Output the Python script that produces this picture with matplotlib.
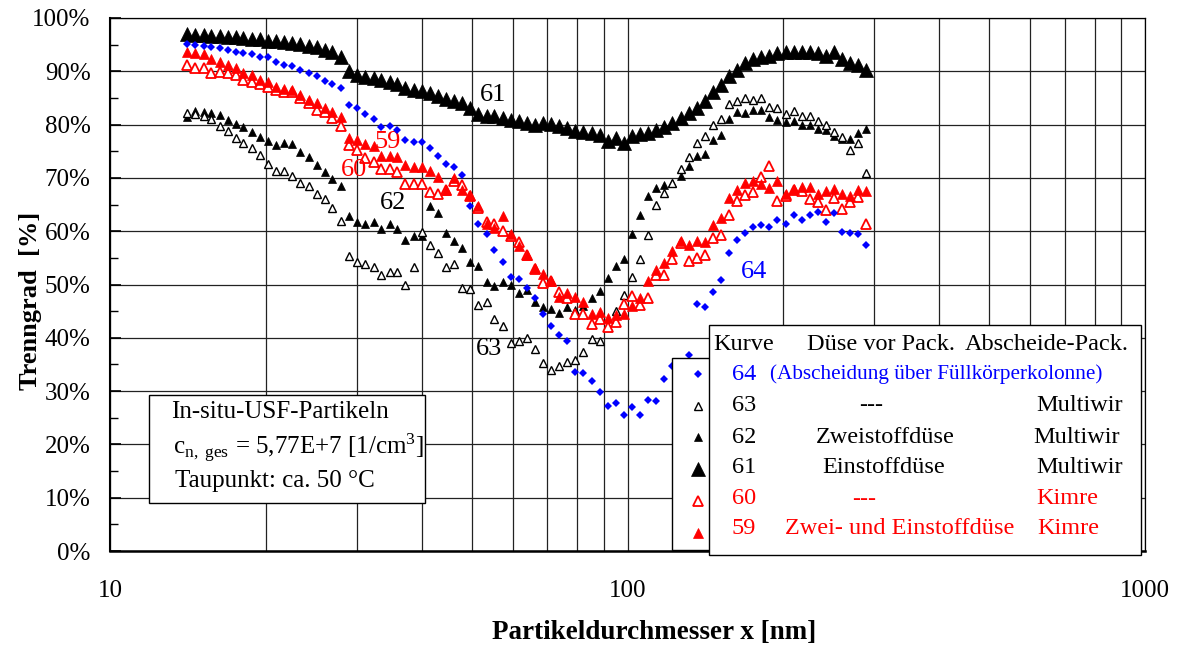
import numpy as np
import matplotlib
matplotlib.use("Agg")
import matplotlib.pyplot as plt
from matplotlib.patches import Rectangle
from matplotlib.ticker import FuncFormatter, MultipleLocator, LogLocator, NullFormatter

plt.rcParams['font.family'] = ['Liberation Serif', 'DejaVu Serif']
plt.rcParams['mathtext.fontset'] = 'stix'

# particle diameter channels [nm]
diameter = [14.1, 14.6, 15.2, 15.7, 16.3, 16.9, 17.5, 18.1, 18.8, 19.5,
            20.2, 20.9, 21.7, 22.5, 23.3, 24.2, 25.1, 26.0, 26.9, 27.9,
            29.0, 30.0, 31.1, 32.3, 33.4, 34.7, 35.9, 37.2, 38.6, 40.0,
            41.5, 43.0, 44.6, 46.2, 47.9, 49.7, 51.5, 53.4, 55.3, 57.4,
            59.5, 61.6, 63.9, 66.2, 68.7, 71.2, 73.8, 76.5, 79.3, 82.2,
            85.2, 88.3, 91.6, 94.9, 98.4, 102.0, 105.7, 109.6, 113.6, 117.8,
            122.1, 126.6, 131.2, 136.0, 141.0, 146.2, 151.5, 157.1, 162.8, 168.8,
            175.0, 181.4, 188.0, 194.9, 202.1, 209.5, 217.1, 225.1, 233.3, 241.9,
            250.7, 259.9, 269.4, 279.3, 289.5]

# Trenngrad [%] per curve
curve_61 = [97.0, 96.9, 96.8, 96.7, 96.6, 96.5, 96.4, 96.2, 96.1, 96.0,
            95.7, 95.6, 95.5, 95.4, 95.1, 94.8, 94.5, 94.0, 93.6, 92.6,
            90.0, 89.3, 89.0, 88.7, 88.3, 88.0, 87.6, 86.8, 86.4, 86.3,
            85.9, 85.3, 84.8, 84.4, 84.0, 83.1, 81.9, 81.7, 81.6, 81.3,
            80.9, 80.6, 80.3, 80.0, 80.3, 80.1, 79.8, 79.4, 78.8, 78.7,
            78.5, 78.0, 77.0, 77.5, 76.5, 77.8, 78.2, 78.5, 78.9, 79.6,
            80.3, 81.3, 82.1, 83.1, 84.4, 86.2, 87.5, 89.1, 90.3, 91.6,
            92.3, 92.7, 92.9, 93.4, 93.6, 93.7, 93.7, 93.6, 93.4, 92.9,
            93.7, 92.3, 91.6, 91.1, 90.2]
curve_62 = [81.4, 82.6, 82.4, 82.2, 81.8, 80.9, 80.2, 79.6, 78.7, 77.7,
            77.0, 76.2, 76.5, 76.4, 74.9, 74.0, 72.4, 71.2, 69.7, 68.4,
            62.9, 61.7, 61.4, 61.7, 60.4, 61.3, 60.4, 58.4, 59.1, 59.1,
            64.7, 63.4, 59.6, 58.1, 56.9, 54.2, 53.5, 50.5, 49.8, 50.5,
            50.0, 48.4, 48.9, 46.7, 45.8, 45.4, 44.7, 45.8, 45.2, 45.9,
            47.5, 48.8, 51.3, 53.4, 54.8, 59.4, 63.1, 66.6, 68.1, 68.6,
            69.1, 70.4, 72.2, 74.1, 74.5, 77.2, 78.1, 81.0, 82.3, 82.1,
            82.7, 82.8, 81.4, 80.9, 80.4, 80.6, 80.0, 80.0, 79.2, 78.9,
            77.9, 77.3, 77.3, 78.4, 79.2]
curve_63 = [82.2, 82.0, 81.6, 81.0, 79.7, 78.8, 77.4, 76.5, 75.7, 74.3,
            72.7, 71.3, 71.3, 70.3, 69.1, 68.5, 66.9, 66.0, 64.4, 62.0,
            55.4, 54.3, 53.9, 53.2, 51.7, 52.4, 52.3, 50.0, 53.2, 59.8,
            57.5, 55.9, 53.2, 53.8, 49.4, 49.1, 46.1, 46.8, 43.6, 42.2,
            39.1, 39.4, 39.9, 37.9, 35.2, 33.9, 34.8, 35.5, 35.9, 37.4,
            39.7, 39.4, 42.0, 45.0, 48.0, 51.4, 54.8, 59.2, 65.0, 67.1,
            69.0, 71.6, 73.9, 76.6, 77.8, 80.0, 81.1, 83.8, 84.4, 84.9,
            84.7, 84.9, 83.3, 83.1, 81.9, 82.5, 81.6, 81.6, 80.6, 80.0,
            78.6, 77.7, 75.2, 76.6, 70.9]
curve_64 = [95.1, 95.0, 94.7, 94.6, 94.3, 94.0, 93.7, 93.5, 93.2, 92.7,
            92.6, 91.8, 91.2, 91.0, 90.2, 89.6, 89.1, 88.2, 87.7, 86.8,
            83.7, 83.1, 82.0, 81.1, 79.5, 79.7, 78.9, 77.2, 76.7, 76.7,
            75.6, 74.1, 72.7, 72.1, 70.6, 64.7, 61.3, 59.4, 56.4, 54.3,
            51.5, 51.0, 49.3, 47.5, 44.4, 42.2, 40.6, 39.4, 33.6, 33.4,
            31.9, 29.9, 27.2, 27.8, 25.6, 27.0, 25.6, 28.3, 28.2, 32.2,
            34.7, 35.5, 36.7, 46.3, 45.8, 48.5, 50.8, 56.0, 58.3, 59.7,
            60.8, 61.1, 60.8, 62.1, 61.3, 63.1, 62.1, 63.1, 63.6, 61.7,
            63.4, 59.8, 59.6, 59.4, 57.5]
curve_60 = [91.2, 90.6, 90.6, 89.6, 89.9, 89.6, 89.3, 88.4, 88.0, 87.6,
            87.1, 86.5, 86.2, 86.2, 84.9, 84.1, 82.7, 82.4, 81.2, 79.7,
            76.1, 75.2, 73.8, 72.9, 71.6, 71.7, 71.1, 68.8, 68.8, 68.8,
            67.3, 66.9, 67.7, 69.5, 68.6, 66.6, 64.4, 61.7, 61.4, 60.0,
            59.1, 57.9, 55.5, 53.0, 50.2, 50.6, 48.5, 47.5, 44.4, 44.4,
            42.5, 43.5, 42.0, 42.9, 46.3, 47.9, 46.2, 47.5, 51.8, 51.7,
            54.8, 57.8, 54.4, 55.0, 55.5, 58.8, 59.2, 63.1, 65.6, 66.8,
            67.3, 70.1, 72.2, 65.6, 66.6, 67.8, 67.5, 66.1, 65.4, 63.9,
            66.2, 64.1, 65.4, 66.4, 61.3]
curve_59 = [93.7, 93.4, 93.2, 92.3, 91.8, 91.2, 90.6, 89.6, 89.3, 88.4,
            88.0, 87.1, 86.6, 86.4, 85.6, 84.7, 84.1, 83.1, 82.4, 81.5,
            77.4, 77.1, 76.3, 75.9, 74.1, 74.1, 73.9, 72.5, 72.1, 72.1,
            71.3, 70.2, 67.8, 70.0, 67.7, 66.7, 64.7, 61.3, 60.6, 62.8,
            59.4, 57.2, 55.6, 53.1, 51.9, 50.6, 47.7, 48.4, 47.7, 46.8,
            44.4, 44.8, 43.8, 44.2, 44.4, 46.0, 47.5, 50.6, 52.8, 54.0,
            56.3, 58.1, 57.4, 58.1, 57.9, 61.2, 62.4, 66.3, 67.8, 69.0,
            69.4, 68.8, 68.1, 69.4, 66.9, 68.0, 68.2, 68.2, 66.9, 67.6,
            68.0, 67.0, 66.6, 67.8, 67.6]

curve_names = ['64', '63', '62', '61', '60', '59']
nozzle = ['(Abscheidung über Füllkörperkolonne)', '---', 'Zweistoffdüse',
          'Einstoffdüse', '---', 'Zwei- und Einstoffdüse']
separator = ['', 'Multiwir', 'Multiwir', 'Multiwir', 'Kimre', 'Kimre']

BLUE = '#0000ff'
RED = '#ff0000'

fig = plt.figure(figsize=(11.78, 6.47), dpi=100)
ax = fig.add_axes([110 / 1178, 96 / 647, 1035 / 1178, 533 / 647])

# curves
h61, = ax.plot(diameter, curve_61, '^', color='black', ms=9.6, mew=0.5, ls='none', zorder=3)
h62, = ax.plot(diameter, curve_62, '^', color='black', ms=6.3, mew=0.5, ls='none', zorder=3)
h63, = ax.plot(diameter, curve_63, '^', mfc='white', mec='black', ms=6.2, mew=1.0, ls='none', zorder=3)
h60, = ax.plot(diameter, curve_60, '^', mfc='white', mec=RED, ms=6.8, mew=1.3, ls='none', zorder=3)
h59, = ax.plot(diameter, curve_59, '^', color=RED, ms=6.8, mew=0.5, ls='none', zorder=3)
h64, = ax.plot(diameter, curve_64, 'D', color=BLUE, ms=4.5, mew=0, ls='none', zorder=4)

ax.set_xscale('log')
ax.set_xlim(10, 1000)
ax.set_ylim(0, 100)

ax.xaxis.set_major_locator(LogLocator(base=10, numticks=5))
ax.xaxis.set_minor_locator(LogLocator(base=10, subs=np.arange(2, 10), numticks=20))
ax.xaxis.set_minor_formatter(NullFormatter())
ax.xaxis.set_major_formatter(FuncFormatter(lambda v, p: f'{v:.0f}'))
ax.yaxis.set_major_locator(MultipleLocator(10))
ax.yaxis.set_minor_locator(MultipleLocator(5))
ax.yaxis.set_major_formatter(FuncFormatter(lambda v, p: f'{v:.0f}%'))

ax.grid(True, which='major', axis='both', color='#222222', lw=0.9)
ax.grid(True, which='minor', axis='x', color='#222222', lw=0.9)
ax.tick_params(axis='y', which='major', direction='in', length=8, width=1.2, labelsize=18, pad=14)
ax.tick_params(axis='y', which='minor', direction='in', length=6, width=1.0)
ax.tick_params(axis='x', which='both', length=0, labelsize=18, pad=21)
for s in ax.spines.values():
    s.set_linewidth(0.9)
ax.spines['left'].set_linewidth(1.5)
ax.spines['bottom'].set_linewidth(1.8)

ax.set_xlabel('Partikeldurchmesser x [nm]', fontsize=19.5, fontweight='bold')
ax.xaxis.set_label_coords(0.526, -0.13)
ax.set_ylabel('Trenngrad  [%]', fontsize=19, fontweight='bold')
ax.yaxis.set_label_coords(-0.066, 0.47)

# curve numbers inside the plot
ax.text(55.0, 85.5, '61', color='black', fontsize=19, ha='center', va='center')
ax.text(34.4, 76.7, '59', color=RED, fontsize=19, ha='center', va='center')
ax.text(29.6, 71.5, '60', color=RED, fontsize=19, ha='center', va='center')
ax.text(35.2, 65.3, '62', color='black', fontsize=19, ha='center', va='center')
ax.text(54.0, 37.9, '63', color='black', fontsize=19, ha='center', va='center')
ax.text(175.6, 52.3, '64', color=BLUE, fontsize=19, ha='center', va='center')


def px(x, y):
    # figure pixel position -> axes fraction
    return ((x - 110) / 1035, (551 - y) / 533)


# info box
ax.add_patch(Rectangle(px(149, 503), 276 / 1035, 108 / 533,
                       transform=ax.transAxes, fc='white', ec='black', lw=1.0, zorder=5))
info = ['In-situ-USF-Partikeln',
        r'c$_\mathregular{n,\ ges}$ = 5,77E+7 [1/cm$^\mathregular{3}$]',
        'Taupunkt: ca. 50 °C']
for line, xl, yl in zip(info, [171, 173, 175], [412, 448, 481]):
    ax.text(*px(xl, yl), line, transform=ax.transAxes,
            fontsize=18, ha='left', va='center', zorder=6)

# marker legend (left box, partly covered by the text table)
handles = [h64, h63, h62, h61, h60, h59]
leg = ax.legend(handles, [' '] * 6, loc='upper left', bbox_to_anchor=px(672, 357.7),
                bbox_transform=ax.transAxes, borderaxespad=0, frameon=True, fancybox=False,
                edgecolor='black', framealpha=1, prop={'size': 4}, handlelength=4.44,
                handleheight=0.75, labelspacing=4.85, borderpad=2.5, handletextpad=0.5, numpoints=1)
leg.get_frame().set_linewidth(1.0)
leg.set_zorder(6)

# text table of the legend
ax.add_patch(Rectangle(px(709, 555), (1141 - 709) / 1035, (555 - 324.5) / 533,
                       transform=ax.transAxes, fc='white', ec='black', lw=1.0, zorder=7, clip_on=False))

tkw = dict(transform=ax.transAxes, fontsize=17.5, va='center', zorder=8)
ax.text(*px(713, 344), 'Kurve', ha='left', **tkw)
ax.text(*px(806.7, 344), 'Düse vor Pack.', ha='left', **tkw)
ax.text(*px(965, 344), 'Abscheide-Pack.', ha='left', **tkw)

row_y = [374, 405.5, 437.5, 467.5, 499, 529]
row_col = [BLUE, 'black', 'black', 'black', RED, RED]
noz_x = [None, 870.7, 885, 884, 864, 900]
sep_x = [None, 1080, 1077, 1080, 1067, 1068]
for i in range(6):
    ax.text(*px(744, row_y[i]), curve_names[i], ha='center', color=row_col[i], **tkw)
    if i == 0:
        ax.text(*px(770, row_y[i]), nozzle[i], ha='left', color=row_col[i],
                transform=ax.transAxes, fontsize=15.3, va='center', zorder=8)
    else:
        ax.text(*px(noz_x[i], row_y[i]), nozzle[i], ha='center', color=row_col[i], **tkw)
        ax.text(*px(sep_x[i], row_y[i]), separator[i], ha='center', color=row_col[i], **tkw)

fig.savefig('out.png', dpi=100)
